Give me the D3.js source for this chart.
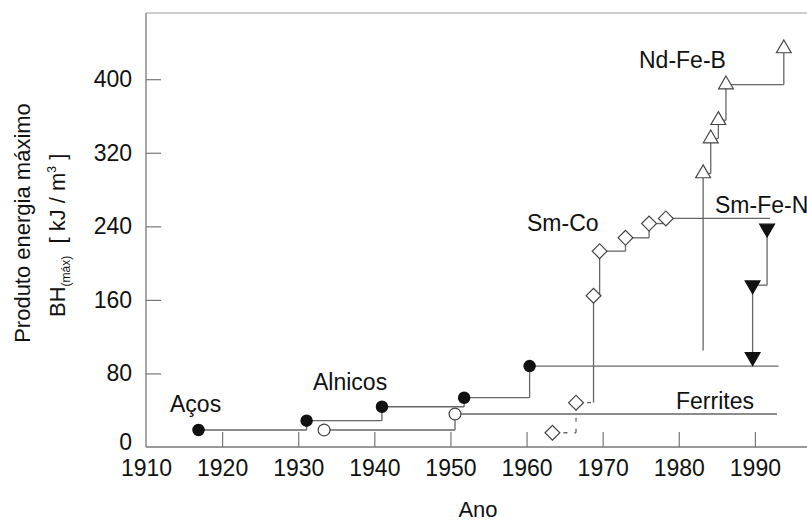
<!DOCTYPE html>
<html>
<head>
<meta charset="utf-8">
<script src="https://cdn.jsdelivr.net/npm/d3@7"></script>
<style>
  body { margin: 0; background: #fff; }
  svg { display: block; font-family: "Liberation Sans", Arial, sans-serif; }
</style>
</head>
<body>
<div id="chart"></div>
<script>
// values (year, BH max in kJ/m3)
const yearsAlnico = [1916.9, 1931.1, 1941.0, 1951.8, 1960.4];
const bhAlnico = [18.5, 28.6, 43.8, 53.6, 88];
const endAlnico = 1993.1;

const yearsFerrite = [1933.4, 1950.6];
const bhFerrite = [18.5, 35.9];
const endFerrite = 1992.9;

const yearsSmCo = [1963.4, 1966.5, 1968.8, 1969.6, 1973.0, 1976.1, 1978.3];
const bhSmCo = [15.5, 48.2, 164.5, 213, 227.5, 243, 248.6];
const endSmCo = 1992.0;

const yearsNdFeB = [1983.2, 1984.2, 1985.2, 1986.2, 1993.8];
const bhNdFeB = [297.5, 335.5, 355.4, 394.2, 433.4];
const startNdFeB = 105;

const yearsSmFeN = [1989.7, 1989.7, 1991.6];
const bhSmFeN = [98, 176, 237.7];

const xTicks = [1910, 1920, 1930, 1940, 1950, 1960, 1970, 1980, 1990];
const yTicks = [0, 80, 160, 240, 320, 400];

const width = 807, height = 523;

const svg = d3.select("#chart").append("svg")
    .attr("width", width)
    .attr("height", height);

const x = d3.scaleLinear().domain([1910, 2000]).range([146, 831]);
const y = d3.scaleLinear().domain([0, 472]).range([447, 13]);

const lineColor = "#666";

// frame: left, bottom, top
svg.append("line").attr("x1", x(1910)).attr("x2", x(1910)).attr("y1", y(472)).attr("y2", y(0))
    .attr("stroke", "#777").attr("stroke-width", 1.3);
svg.append("line").attr("x1", x(1910)).attr("x2", width).attr("y1", y(0)).attr("y2", y(0))
    .attr("stroke", "#777").attr("stroke-width", 1.3);
svg.append("line").attr("x1", x(1910)).attr("x2", width).attr("y1", y(472)).attr("y2", y(472))
    .attr("stroke", "#999").attr("stroke-width", 1.2);

// axes with inward ticks
const xAxis = svg.append("g")
    .attr("transform", `translate(0,${y(0)})`)
    .call(d3.axisBottom(x).tickValues(xTicks).tickSize(-15).tickPadding(8).tickFormat(d3.format("d")));
const yAxis = svg.append("g")
    .attr("transform", `translate(${x(1910)},0)`)
    .call(d3.axisLeft(y).tickValues(yTicks).tickSize(-15).tickPadding(14));

[xAxis, yAxis].forEach(g => {
  g.select(".domain").remove();
  g.selectAll(".tick line").attr("stroke", "#777").attr("stroke-width", 1.2);
  g.selectAll(".tick text").attr("fill", "#111").style("font-size", "23px")
      .style("font-family", "'Liberation Sans', Arial, sans-serif");
});
xAxis.selectAll(".tick").filter(d => d === 1910).select("line").remove();
xAxis.selectAll(".tick text").attr("dy", "0.9em");
yAxis.selectAll(".tick").filter(d => d === 0).select("line").remove();
yAxis.selectAll(".tick").filter(d => d === 0).select("text").attr("dy", "0.1em");

// step segments: horizontal at the old value, then up/down to the new one
function steps(years, vals, opts = {}) {
  const segs = [];
  if (opts.start !== undefined) {
    segs.push({x1: years[0], y1: opts.start, x2: years[0], y2: vals[0], part: "v0"});
  }
  for (let i = 1; i < years.length; i++) {
    segs.push({x1: years[i - 1], y1: vals[i - 1], x2: years[i], y2: vals[i - 1], part: "h" + i});
    segs.push({x1: years[i], y1: vals[i - 1], x2: years[i], y2: vals[i], part: "v" + i});
  }
  if (opts.end !== undefined) {
    const n = years.length - 1;
    segs.push({x1: years[n], y1: vals[n], x2: opts.end, y2: vals[n], part: "end"});
  }
  const dashed = opts.dashed || [];
  svg.append("g").selectAll("line")
      .data(segs)
      .join("line")
      .attr("x1", d => x(d.x1)).attr("y1", d => y(d.y1))
      .attr("x2", d => x(d.x2)).attr("y2", d => y(d.y2))
      .attr("stroke", lineColor)
      .attr("stroke-width", 1.3)
      .attr("stroke-dasharray", d => dashed.includes(d.part) ? "4,7" : null);
}

steps(yearsAlnico, bhAlnico, {end: endAlnico});
steps(yearsFerrite, bhFerrite, {end: endFerrite});
steps(yearsSmCo, bhSmCo, {end: endSmCo, dashed: ["h1", "v1", "h2"]});
steps(yearsNdFeB, bhNdFeB, {start: startNdFeB});
steps(yearsSmFeN, bhSmFeN);

// markers
function markers(years, vals, type, size, fill, rotate) {
  svg.append("g").selectAll("path")
      .data(years.map((yr, i) => ({yr, v: vals[i]})))
      .join("path")
      .attr("d", d3.symbol().type(type).size(size))
      .attr("transform", d => `translate(${x(d.yr)},${y(d.v)}) rotate(${rotate})`)
      .attr("fill", fill)
      .attr("stroke", fill === "#fff" ? "#444" : "#111")
      .attr("stroke-width", 1.2);
}

markers(yearsAlnico, bhAlnico, d3.symbolCircle, 100, "#111", 0);
markers(yearsFerrite, bhFerrite, d3.symbolCircle, 110, "#fff", 0);
markers(yearsSmCo, bhSmCo, d3.symbolSquare, 110, "#fff", 45);
markers(yearsNdFeB, bhNdFeB, d3.symbolTriangle, 95, "#fff", 0);
markers(yearsSmFeN, bhSmFeN, d3.symbolTriangle, 95, "#111", 180);

// series labels
const labels = [
  {t: "Aços", x: 170, y: 412},
  {t: "Alnicos", x: 313, y: 390},
  {t: "Ferrites", x: 676, y: 409},
  {t: "Sm-Co", x: 527, y: 231},
  {t: "Sm-Fe-N", x: 715, y: 213},
  {t: "Nd-Fe-B", x: 639, y: 68}
];
svg.append("g").selectAll("text")
    .data(labels)
    .join("text")
    .attr("x", d => d.x).attr("y", d => d.y)
    .attr("fill", "#111")
    .style("font-size", "23px")
    .text(d => d.t);

// axis titles
svg.append("text")
    .attr("x", 478).attr("y", 517)
    .attr("text-anchor", "middle")
    .attr("fill", "#111")
    .style("font-size", "22px")
    .text("Ano");

svg.append("text")
    .attr("transform", "translate(30,223) rotate(-90)")
    .attr("text-anchor", "middle")
    .attr("fill", "#111")
    .style("font-size", "22px")
    .text("Produto energia máximo");

const t2 = svg.append("text")
    .attr("transform", "translate(65,317) rotate(-90)")
    .attr("fill", "#111")
    .style("font-size", "22px");
t2.append("tspan").text("BH");
t2.append("tspan").attr("dy", 5).style("font-size", "12px").text("(máx)");
t2.append("tspan").attr("dy", -5).attr("xml:space", "preserve").text("  [ kJ / m");
t2.append("tspan").attr("dy", -9).style("font-size", "12px").text("3");
t2.append("tspan").attr("dy", 9).attr("xml:space", "preserve").text(" ]");
</script>
</body>
</html>
